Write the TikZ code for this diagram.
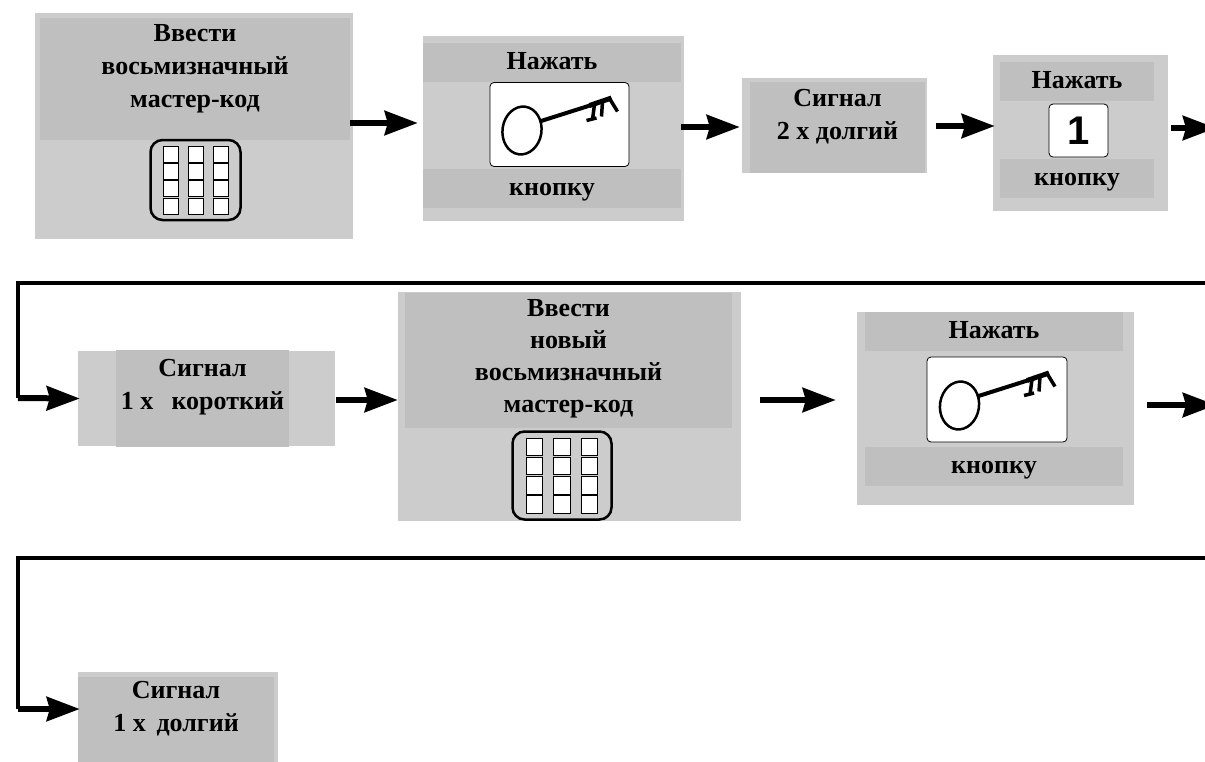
\documentclass[tikz,border=0pt]{standalone}
\usepackage{fontspec}
\setmainfont{Liberation Serif}
\newfontfamily\digitfont{Liberation Sans}
\usetikzlibrary{arrows.meta}
\definecolor{outergray}{HTML}{CCCCCC}
\definecolor{innergray}{HTML}{BFBFBF}
\tikzset{
    keyicon/.pic = {
        \draw[line width = 2.5pt] (-37.5,6) ellipse [x radius = 19.5, y radius = 24, rotate = -8];
        \draw[line width = 4pt] (-20,-3) -- (32,-19.5);
        \draw[line width = 5pt] (30,-19) -- (52,-26.5);
        \draw[line width = 3.5pt] (35,-20) -- (33,-5) (27,-4) -- (37,-6.5)
            (43,-23) -- (42,-8) (50,-26) -- (58,-13);
    },
    keypad/.pic = {
        \draw[line width = 2.5pt, rounded corners = 12pt] (-45,-40) rectangle (45,40);
        \foreach \col in {-25, 0, 25}
            \foreach \row in {-26, -8.7, 8.7, 26}
                \draw[fill = white, line width = 0.7pt] (\col-7.5,\row-8) rectangle (\col+7.5,\row+8);
    }
}
\begin{document}
\begin{tikzpicture}[x = 1pt, y = -1pt,
    outerbox/.style = {shape = rectangle, fill = outergray, inner sep = 0pt},
    innerbox/.style = {shape = rectangle, fill = innergray, inner sep = 0pt, text height = 17pt, text depth = 4pt,
        font = \fontsize{26}{33}\selectfont\bfseries},
    plainbox/.style = {shape = rectangle, fill = innergray, inner sep = 0pt},
    caption/.style = {align = center, inner sep = 0pt, font = \fontsize{26}{33}\selectfont\bfseries},
    window/.style = {shape = rectangle, draw, fill = white, rounded corners = 4pt, line width = 0.8pt, inner sep = 0pt},
    flow/.style = {line width = 6pt, -{Stealth[length = 33pt, width = 24pt, inset = 3pt]}},
    wrap/.style = {line width = 4pt}]
    \useasboundingbox (0,0) rectangle (1205,761);

    % first row
    \node[outerbox, minimum width = 318, minimum height = 226] (enterOuter) at (194,126) {};
    \node[plainbox, minimum width = 310, minimum height = 122] (enterInner) at (195,79) {};
    \node[caption] (enterText) at (195,69) {Ввести\\восьмизначный\\мастер-код};
    \pic at (195.5,180) {keypad};

    \node[outerbox, minimum width = 261, minimum height = 185] (pressOuter) at (553.5,128.5) {};
    \node[innerbox, minimum width = 258, minimum height = 39] (pressTop) at (552,62.5) {Нажать};
    \node[innerbox, minimum width = 258, minimum height = 39] (pressBottom) at (552,188.5) {кнопку};
    \node[window, minimum width = 139, minimum height = 84] (pressKey) at (559.5,124.5) {};
    \pic at (pressKey.center) {keyicon};

    \node[outerbox, minimum width = 185, minimum height = 95] (longTwoOuter) at (834.5,125.5) {};
    \node[plainbox, minimum width = 175, minimum height = 91] (longTwoInner) at (837.5,127.5) {};
    \node[caption] (longTwoText) at (837.5,117) {Сигнал\\2 х долгий};

    \node[outerbox, minimum width = 175, minimum height = 156] (oneOuter) at (1080.5,133) {};
    \node[innerbox, minimum width = 154, minimum height = 39] (oneTop) at (1077,81.5) {Нажать};
    \node[innerbox, minimum width = 154, minimum height = 39] (oneBottom) at (1077,178.5) {кнопку};
    \node[window, minimum width = 59, minimum height = 53, font = \digitfont\bfseries\fontsize{40}{40}\selectfont] (oneKey) at (1078.5,130.5) {1};

    % second row
    \node[outerbox, minimum width = 257, minimum height = 95] (shortOuter) at (206.5,398.5) {};
    \node[plainbox, minimum width = 173, minimum height = 97] (shortInner) at (202.5,398.5) {};
    \node[caption] (shortText) at (202.5,387) {Сигнал\\1 х\;\, короткий};

    \node[outerbox, minimum width = 343, minimum height = 229] (newOuter) at (569.5,406.5) {};
    \node[plainbox, minimum width = 327, minimum height = 135] (newInner) at (568.5,360.5) {};
    \node[caption, font = \fontsize{26}{32}\selectfont\bfseries] (newText) at (568.5,358.5) {Ввести\\новый\\восьмизначный\\мастер-код};
    \pic[xscale = 1.1, yscale = 1.1] at (562,475.5) {keypad};

    \node[outerbox, minimum width = 277, minimum height = 193] (againOuter) at (995.5,408.5) {};
    \node[innerbox, minimum width = 258, minimum height = 39] (againTop) at (994,331.5) {Нажать};
    \node[innerbox, minimum width = 258, minimum height = 39] (againBottom) at (994,466.5) {кнопку};
    \node[window, minimum width = 140, minimum height = 85] (againKey) at (997,399.5) {};
    \pic at (againKey.center) {keyicon};

    % third row
    \node[outerbox, minimum width = 200, minimum height = 90] (longOneOuter) at (178,717) {};
    \node[plainbox, minimum width = 196, minimum height = 85] (longOneInner) at (176,719.5) {};
    \node[caption] (longOneText) at (176,709) {Сигнал\\1 х\, долгий};

    % free ends at the page edge
    \coordinate (exitOne) at (1216,128);
    \coordinate (exitTwo) at (1216,405);
    \coordinate (wrapOne) at (1205,283);
    \coordinate (turnOne) at (18,398);
    \coordinate (wrapTwo) at (1205,558);
    \coordinate (turnTwo) at (18,709);

    \draw[flow, shorten < = -3pt, shorten > = 5pt] ([yshift = 3pt]enterOuter.east) -- ([yshift = 5.5pt]pressOuter.west);
    \draw[flow, shorten < = -3pt, shorten > = 2pt] ([yshift = 1.5pt]pressOuter.east) -- ([yshift = -1.5pt]longTwoOuter.west);
    \draw[flow, shorten < = 9pt, shorten > = -2pt] ([yshift = -0.5pt]longTwoOuter.east) -- ([yshift = 7pt]oneOuter.west);
    \draw[flow, shorten < = 3pt] (oneOuter.east |- exitOne) -- (exitOne);

    \draw[wrap] (wrapOne) -| (turnOne);
    \draw[flow, shorten > = -2pt] (turnOne) -- (shortOuter.west);
    \draw[flow, shorten < = 1pt] ([yshift = -1.5pt]shortOuter.east) -- ([yshift = 6.5pt]newOuter.west);
    \draw[flow, shorten < = 19pt, shorten > = 21pt] ([yshift = 6.5pt]newOuter.east) -- ([yshift = 8.5pt]againOuter.west);
    \draw[flow, shorten < = 13pt] (againOuter.east |- exitTwo) -- (exitTwo);

    \draw[wrap] (wrapTwo) -| (turnTwo);
    \draw[flow, shorten > = -2pt] (turnTwo) -- (longOneOuter.west |- turnTwo);
\end{tikzpicture}
\end{document}
